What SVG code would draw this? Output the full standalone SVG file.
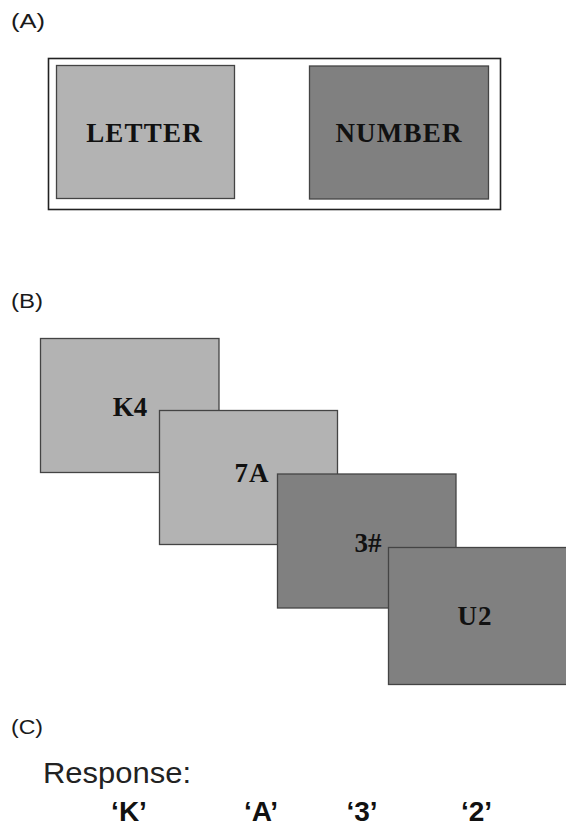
<svg xmlns="http://www.w3.org/2000/svg" width="566" height="826" viewBox="0 0 566 826">
<style>
.lbl{font-family:"Liberation Sans",Arial,sans-serif;font-size:20px;fill:#1a1a1a}
.light{fill:#b3b3b3;stroke:#444;stroke-width:1.3}
.dark{fill:#808080;stroke:#444;stroke-width:1.3}
.ser{font-family:"Liberation Serif","Times New Roman",serif;font-weight:bold;font-size:27px;fill:#111;text-anchor:middle}
.resp{font-family:"Liberation Sans",Arial,sans-serif;font-size:29px;fill:#222}
.ans{font-family:"Liberation Sans",Arial,sans-serif;font-weight:bold;font-size:28px;fill:#111;text-anchor:middle}
</style>
<rect width="566" height="826" fill="#fff"/>
<text class="lbl" x="11" y="27.5" textLength="34" lengthAdjust="spacingAndGlyphs">(A)</text>
<text class="lbl" x="11" y="307.5" textLength="32" lengthAdjust="spacingAndGlyphs">(B)</text>
<text class="lbl" x="11" y="734" textLength="32" lengthAdjust="spacingAndGlyphs">(C)</text>
<g id="panelA">
<rect x="48.5" y="58.5" width="452" height="151" fill="#fff" stroke="#222" stroke-width="1.6"/>
<g id="letter"><rect class="light" x="56.5" y="65.5" width="178" height="133"/><text class="ser" x="144.5" y="142.3" font-size="26" letter-spacing="1.2">LETTER</text></g>
<g id="number"><rect class="dark" x="309.5" y="66" width="179" height="133"/><text class="ser" x="399" y="142.3" font-size="26" letter-spacing="1.2">NUMBER</text></g>
</g>
<g id="panelB">
<g id="k4"><rect class="light" x="40.5" y="338.5" width="178.5" height="134"/><text class="ser" x="130" y="416">K4</text></g>
<g id="s7a"><rect class="light" x="159.5" y="410.5" width="178" height="134"/><text class="ser" x="252" y="481.7" letter-spacing="1">7A</text></g>
<g id="s3h"><rect class="dark" x="277.5" y="474" width="178.5" height="134"/><text class="ser" x="368" y="551.7">3#</text></g>
<g id="u2"><rect class="dark" x="388.5" y="547.5" width="180" height="137"/><text class="ser" x="475" y="625" letter-spacing="1">U2</text></g>
</g>
<g id="panelC">
<text class="resp" x="43" y="783.3" textLength="148" lengthAdjust="spacingAndGlyphs">Response:</text>
<text class="ans" x="129" y="821">‘K’</text>
<text class="ans" x="261" y="821">‘A’</text>
<text class="ans" x="362" y="821">‘3’</text>
<text class="ans" x="476.5" y="821">‘2’</text>
</g>
</svg>
